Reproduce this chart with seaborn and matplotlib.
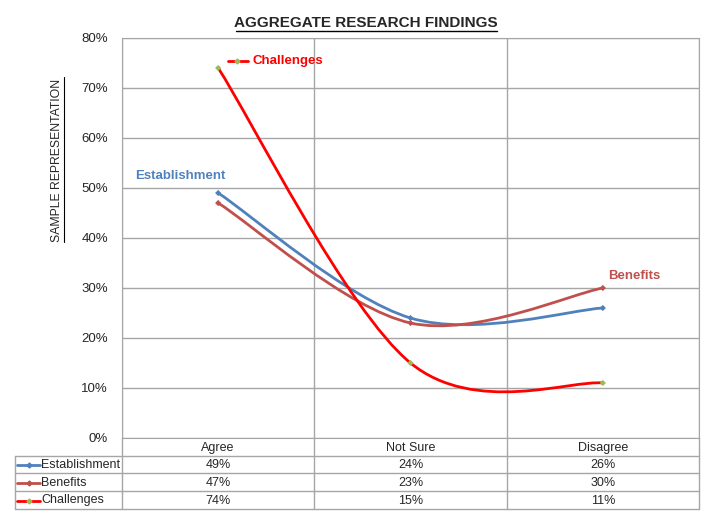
import numpy as np
import pandas as pd
import matplotlib
matplotlib.use("Agg")
import matplotlib.pyplot as plt
from matplotlib.path import Path
from matplotlib.patches import PathPatch
from matplotlib.lines import Line2D
import seaborn as sns

# chart data
categories = ["Agree", "Not Sure", "Disagree"]
series_names = ["Establishment", "Benefits", "Challenges"]
establishment = [49, 24, 26]
benefits = [47, 23, 30]
challenges = [74, 15, 11]
yticks = [0, 10, 20, 30, 40, 50, 60, 70, 80]

colors = {"Establishment": "#4f81bd", "Benefits": "#c0504d", "Challenges": "#ff0000"}
marker_colors = {"Establishment": "#4f81bd", "Benefits": "#c0504d", "Challenges": "#9bbb59"}

df = pd.DataFrame({"category": categories * 3,
                   "x": list(range(len(categories))) * 3,
                   "series": np.repeat(series_names, len(categories)),
                   "value": establishment + benefits + challenges})

sns.set_style("white")
plt.rcParams["font.family"] = ["Liberation Sans", "DejaVu Sans"]

W, H = 714, 513
fig = plt.figure(figsize=(W / 100, H / 100), dpi=100)
L, R, T, B = 122, 699, 38, 438
ax = fig.add_axes([L / W, 1 - B / H, (R - L) / W, (B - T) / H])

grid_c = "#a6a6a6"


def fx(px):
    return px / W


def fy(py):
    return 1 - py / H


def smooth_path(xs, ys):
    # Excel-style smoothed line (cubic bezier through the points)
    pts = np.column_stack([xs, ys]).astype(float)
    n = len(pts)
    verts = [pts[0]]
    codes = [Path.MOVETO]
    for i in range(n - 1):
        p_prev = pts[max(i - 1, 0)]
        p_next2 = pts[min(i + 2, n - 1)]
        c1 = pts[i] + (pts[i + 1] - p_prev) / 6
        c2 = pts[i + 1] - (p_next2 - pts[i]) / 6
        verts += [c1, c2, pts[i + 1]]
        codes += [Path.CURVE4] * 3
    return Path(verts, codes)


for name in series_names:
    sub = df[df["series"] == name]
    ax.add_patch(PathPatch(smooth_path(sub["x"], sub["value"]), fill=False,
                           edgecolor=colors[name], lw=2.0, zorder=3))

sns.scatterplot(data=df, x="x", y="value", hue="series", palette=marker_colors,
                marker="D", s=10, edgecolor="none", legend=False, ax=ax, zorder=4)

ax.set_xlim(-0.5, len(categories) - 0.5)
ax.set_ylim(0, 80)
ax.set_yticks(yticks)
ax.set_yticklabels([f"{v}%" for v in yticks], fontsize=9.5)
ax.set_xticks([])
for v in yticks:
    ax.axhline(v, color=grid_c, lw=1, zorder=1)
for xv in np.arange(-0.5, len(categories), 1.0):
    ax.axvline(xv, color=grid_c, lw=1, zorder=1)
for s in ax.spines.values():
    s.set_color(grid_c)
ax.tick_params(axis="y", length=0, pad=10)
ax.set_xlabel("")
ax.set_ylabel("")

# title with underline
fig.text(fx(366), fy(23), "AGGREGATE RESEARCH FINDINGS",
         ha="center", va="center", fontsize=11, fontweight="bold")
fig.add_artist(Line2D([fx(236), fx(497)], [fy(31)] * 2, color="black", lw=1))

# y axis title with underline
fig.text(fx(57), fy(160), "SAMPLE REPRESENTATION", rotation=90,
         ha="center", va="center", fontsize=8.8)
fig.add_artist(Line2D([fx(64)] * 2, [fy(242), fy(77)], color="black", lw=0.8))

# series labels
ax.text(0.18, 75.4, "Challenges", color=colors["Challenges"], fontsize=9.5,
        fontweight="bold", va="center")
ax.plot([0.05, 0.155], [75.4, 75.4], color=colors["Challenges"], lw=2, zorder=3)
ax.plot([0.1], [75.4], marker="D", ms=2.5, color=marker_colors["Challenges"], zorder=4)
ax.text(-0.43, 52.4, "Establishment", color=colors["Establishment"], fontsize=9.5,
        fontweight="bold", va="center")
ax.text(2.03, 32.4, "Benefits", color=colors["Benefits"], fontsize=9.5,
        fontweight="bold", va="center")

# data table below the plot
rows_y = [456, 473, 491, 509]
col_edges = [L, 314, 507, R]
for y in rows_y:
    fig.add_artist(Line2D([fx(15), fx(R)], [fy(y)] * 2, color=grid_c, lw=1))
fig.add_artist(Line2D([fx(15)] * 2, [fy(456), fy(509)], color=grid_c, lw=1))
for xe in col_edges:
    fig.add_artist(Line2D([fx(xe)] * 2, [fy(B), fy(509)], color=grid_c, lw=1))

centers = [(col_edges[i] + col_edges[i + 1]) / 2 for i in range(3)]
for c, cat in zip(centers, categories):
    fig.text(fx(c), fy(448), cat, ha="center", va="center", fontsize=9)

values = {"Establishment": establishment, "Benefits": benefits, "Challenges": challenges}
for r, name in enumerate(series_names):
    yc = (rows_y[r] + rows_y[r + 1]) / 2 + 0.5
    fig.add_artist(Line2D([fx(17), fx(40)], [fy(yc)] * 2, color=colors[name], lw=2))
    fig.add_artist(Line2D([fx(29)], [fy(yc)], marker="D", ms=2.5,
                          color=marker_colors[name], lw=0))
    fig.text(fx(41), fy(yc), name, ha="left", va="center", fontsize=9)
    for c, v in zip(centers, values[name]):
        fig.text(fx(c), fy(yc), f"{v}%", ha="center", va="center", fontsize=9)

fig.savefig("out.png", dpi=100)
